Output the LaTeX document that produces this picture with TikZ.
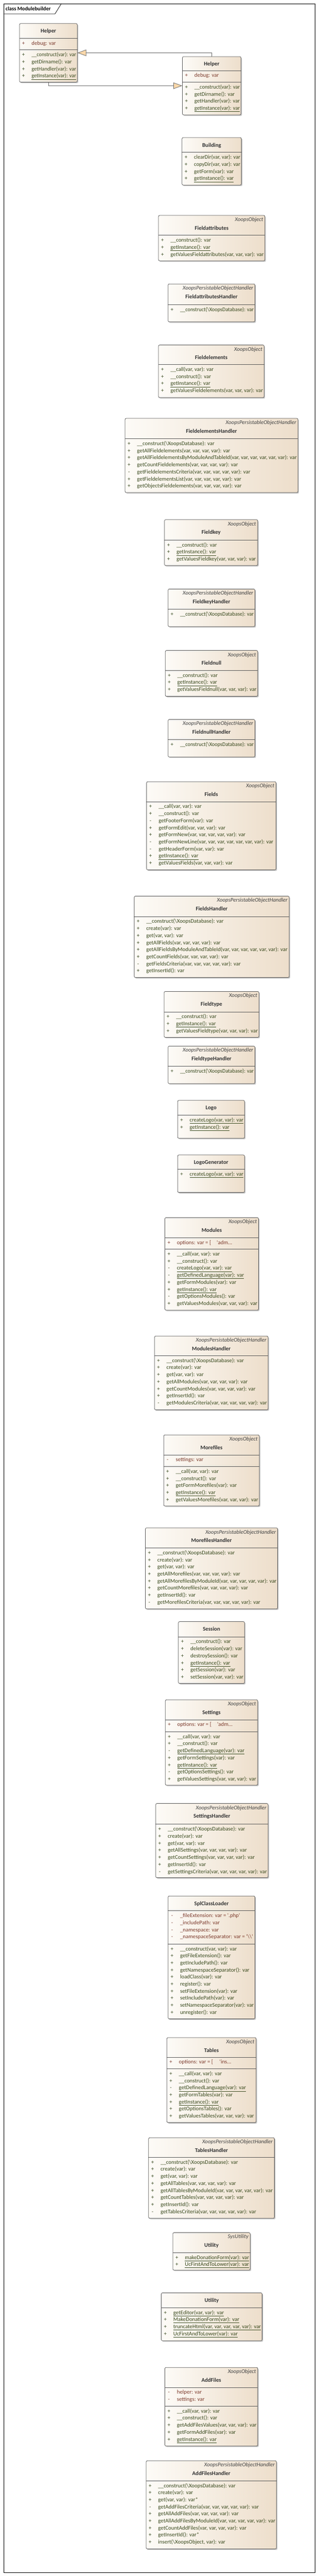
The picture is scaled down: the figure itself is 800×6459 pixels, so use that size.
\documentclass[tikz,border=0pt]{standalone}
\usepackage{fontspec}
\setmainfont{Carlito}
\usepackage{graphicx}
\usetikzlibrary{shadows,fit,arrows.meta}
\definecolor{boxline}{RGB}{85,85,85}
\definecolor{boxl}{RGB}{253,251,247}
\definecolor{boxr}{RGB}{237,222,203}
\definecolor{attrc}{RGB}{125,60,45}
\definecolor{opc}{RGB}{58,74,30}
\definecolor{namec}{RGB}{51,51,51}
\definecolor{stc}{RGB}{68,68,68}
\definecolor{genline}{RGB}{105,105,105}
\definecolor{trifill}{RGB}{250,216,170}
\newcommand{\memfont}{\fontsize{14}{16}\selectfont}
\newcommand{\bsl}{\textbackslash}
\newcommand{\qs}{\textquotesingle}
\newsavebox\umlbox
\newcount\umlidx
\tikzset{
  clsbox/.style={draw=boxline, line width=1pt, rounded corners=3pt, left color=boxl, right color=boxr, inner sep=0pt,
    drop shadow={shadow xshift=2.5pt, shadow yshift=-2.5pt, fill=black!45, opacity=0.5}},
  sepline/.style={draw=boxline, line width=1pt},
  cname/.style={font=\fontsize{14}{16}\selectfont\bfseries, text=namec, inner sep=0pt, text height=10pt, text depth=3.5pt},
  stereo/.style={font=\fontsize{14}{16}\selectfont\itshape, text=stc, inner sep=0pt, text height=10pt, text depth=3.5pt},
  sign/.style={anchor=center, inner sep=0pt, font=\memfont, text height=10pt, text depth=3.5pt},
  member/.style={anchor=west, inner sep=0pt, font=\memfont, text height=10pt, text depth=3.5pt},
  gen/.style={draw=genline, line width=1pt, -{Triangle[length=22pt, width=16pt, fill=trifill]}}
}
\newcommand{\umlfit}[1]{%
  \sbox\umlbox{#1}%
  \ifdim\wd\umlbox>\umlavail pt\relax
    \pgfmathsetmacro\umlratio{\umlavail/\the\wd\umlbox}%
    \scalebox{\umlratio}[1]{\usebox\umlbox}%
  \else
    \usebox\umlbox
  \fi}
\newcommand{\umlcls}[7]{%
  \node[clsbox, fit={(#2,#4) (#3,#5)}] (#1) {};
  \def\umlid{#1}\def\umlx{#2}%
  \pgfmathsetmacro\umlavail{#3-#2-33}%
  \ifx\relax#6\relax
    \node[cname] (#1-name) at ({(#2+#3)/2},{#4+20}) {#7};
  \else
    \node[stereo, anchor=east] (#1-stereo) at ({#3-4},{#4+11.5}) {#6};
    \node[cname] (#1-name) at ({(#2+#3)/2},{#4+33}) {#7};
  \fi}
\newcommand{\umlsep}[1]{%
  \draw[sepline] (\umlid.west |- 0,#1) -- (\umlid.east |- 0,#1);
  \def\umlsepy{#1}\global\umlidx=0\relax}
\newcommand{\umlm}[3]{%
  \global\advance\umlidx by 1\relax
  \pgfmathsetmacro\umly{\umlsepy+13.5+17.7*(\the\umlidx-1)}%
  \node[sign, text=#3] (\umlid-s\umlsepy-\the\umlidx) at ({\umlx+10},\umly) {#1};
  \node[member, text=#3] (\umlid-m\umlsepy-\the\umlidx) at ({\umlx+30},\umly) {\umlfit{#2}};
}
\begin{document}
\begin{tikzpicture}[x=1pt,y=-1pt]
\useasboundingbox (0,0) rectangle (800,6459);
\fill[white] (0,0) rectangle (800,6459);
% frame
\draw[black, line width=1pt] (9,9) rectangle (791,6450);
\draw[black, line width=1pt] (9,35) -- (138,35) -- (154,9);
\node[font=\fontsize{13.5}{16}\selectfont\bfseries, anchor=west, inner sep=0pt] (framelabel) at (14,21.5) {class Modulebuilder};

% Helper (left)
\umlcls{h1}{49}{194}{59}{206}{}{Helper}
\umlsep{96}
\umlm{+}{debug: var}{attrc}
\umlsep{125}
\umlm{+}{\_\_construct(var): var}{opc}
\umlm{+}{getDirname(): var}{opc}
\umlm{+}{getHandler(var): var}{opc}
\umlm{+}{\underline{getInstance(var): var}}{opc}

% Helper (right)
\umlcls{h2}{458}{605}{142}{288}{}{Helper}
\umlsep{177}
\umlm{+}{debug: var}{attrc}
\umlsep{206}
\umlm{+}{\_\_construct(var): var}{opc}
\umlm{+}{getDirname(): var}{opc}
\umlm{+}{getHandler(var): var}{opc}
\umlm{+}{\underline{getInstance(var): var}}{opc}

\draw[gen] (h2.north) |- (h1.east);
\draw[gen] (h1.south) |- (h2.west);

% Building
\umlcls{building}{457}{606}{345}{464}{}{Building}
\umlsep{382}
\umlm{+}{clearDir(var, var): var}{opc}
\umlm{+}{copyDir(var, var): var}{opc}
\umlm{+}{getForm(var): var}{opc}
\umlm{+}{\underline{getInstance(): var}}{opc}

% Fieldattributes
\umlcls{fattr}{398}{665}{540}{654}{XoopsObject}{Fieldattributes}
\umlsep{590}
\umlm{+}{\_\_construct(): var}{opc}
\umlm{+}{\underline{getInstance(): var}}{opc}
\umlm{+}{getValuesFieldattributes(var, var, var): var}{opc}

\umlcls{fattrH}{422}{640}{712}{807}{XoopsPersistableObjectHandler}{FieldattributesHandler}
\umlsep{764}
\umlm{+}{\_\_construct(\bsl XoopsDatabase): var}{opc}

% Fieldelements
\umlcls{felem}{398}{663}{865}{997}{XoopsObject}{Fieldelements}
\umlsep{914}
\umlm{+}{\_\_call(var, var): var}{opc}
\umlm{+}{\_\_construct(): var}{opc}
\umlm{+}{\underline{getInstance(): var}}{opc}
\umlm{+}{getValuesFieldelements(var, var, var): var}{opc}

\umlcls{felemH}{314}{748}{1049}{1235}{XoopsPersistableObjectHandler}{FieldelementsHandler}
\umlsep{1100}
\umlm{+}{\_\_construct(\bsl XoopsDatabase): var}{opc}
\umlm{+}{getAllFieldelements(var, var, var, var): var}{opc}
\umlm{+}{getAllFieldelementsByModuleAndTableId(var, var, var, var, var, var): var}{opc}
\umlm{+}{getCountFieldelements(var, var, var, var): var}{opc}
\umlm{-}{getFieldelementsCriteria(var, var, var, var, var): var}{opc}
\umlm{+}{getFieldelementsList(var, var, var, var, var): var}{opc}
\umlm{+}{getObjectsFieldelements(var, var, var, var): var}{opc}

% Fieldkey
\umlcls{fkey}{413}{647}{1303}{1418}{XoopsObject}{Fieldkey}
\umlsep{1354}
\umlm{+}{\_\_construct(): var}{opc}
\umlm{+}{\underline{getInstance(): var}}{opc}
\umlm{+}{getValuesFieldkey(var, var, var): var}{opc}

\umlcls{fkeyH}{422}{640}{1477}{1571}{XoopsPersistableObjectHandler}{FieldkeyHandler}
\umlsep{1527}
\umlm{+}{\_\_construct(\bsl XoopsDatabase): var}{opc}

% Fieldnull
\umlcls{fnull}{415}{647}{1631}{1746}{XoopsObject}{Fieldnull}
\umlsep{1681}
\umlm{+}{\_\_construct(): var}{opc}
\umlm{+}{\underline{getInstance(): var}}{opc}
\umlm{+}{getValuesFieldnull(var, var, var): var}{opc}

\umlcls{fnullH}{422}{640}{1804}{1898}{XoopsPersistableObjectHandler}{FieldnullHandler}
\umlsep{1854}
\umlm{+}{\_\_construct(\bsl XoopsDatabase): var}{opc}

% Fields
\umlcls{fields}{368}{693}{1960}{2181}{XoopsObject}{Fields}
\umlsep{2010}
\umlm{+}{\_\_call(var, var): var}{opc}
\umlm{+}{\_\_construct(): var}{opc}
\umlm{-}{getFooterForm(var): var}{opc}
\umlm{+}{getFormEdit(var, var, var): var}{opc}
\umlm{+}{getFormNew(var, var, var, var, var): var}{opc}
\umlm{-}{getFormNewLine(var, var, var, var, var, var, var): var}{opc}
\umlm{-}{getHeaderForm(var, var): var}{opc}
\umlm{+}{\underline{getInstance(): var}}{opc}
\umlm{+}{getValuesFields(var, var, var): var}{opc}

\umlcls{fieldsH}{337}{726}{2247}{2451}{XoopsPersistableObjectHandler}{FieldsHandler}
\umlsep{2298}
\umlm{+}{\_\_construct(\bsl XoopsDatabase): var}{opc}
\umlm{+}{create(var): var}{opc}
\umlm{+}{get(var, var): var}{opc}
\umlm{+}{getAllFields(var, var, var, var): var}{opc}
\umlm{+}{getAllFieldsByModuleAndTableId(var, var, var, var, var, var): var}{opc}
\umlm{+}{getCountFields(var, var, var, var): var}{opc}
\umlm{-}{getFieldsCriteria(var, var, var, var, var): var}{opc}
\umlm{+}{getInsertId(): var}{opc}

% Fieldtype
\umlcls{ftype}{412}{650}{2486}{2601}{XoopsObject}{Fieldtype}
\umlsep{2537}
\umlm{+}{\_\_construct(): var}{opc}
\umlm{+}{\underline{getInstance(): var}}{opc}
\umlm{+}{getValuesFieldtype(var, var, var): var}{opc}

\umlcls{ftypeH}{422}{640}{2623}{2717}{XoopsPersistableObjectHandler}{FieldtypeHandler}
\umlsep{2673}
\umlm{+}{\_\_construct(\bsl XoopsDatabase): var}{opc}

% Logo
\umlcls{logo}{446}{614}{2759}{2854}{}{Logo}
\umlsep{2796}
\umlm{+}{\underline{createLogo(var, var): var}}{opc}
\umlm{+}{\underline{getInstance(): var}}{opc}

\umlcls{logogen}{446}{614}{2896}{2990}{}{LogoGenerator}
\umlsep{2932}
\umlm{+}{\underline{createLogo(var, var): var}}{opc}

% Modules
\umlcls{modules}{414}{649}{3053}{3285}{XoopsObject}{Modules}
\umlsep{3103}
\umlm{+}{options: var = [\hspace{14pt}\qs adm...}{attrc}
\umlsep{3132}
\umlm{+}{\_\_call(var, var): var}{opc}
\umlm{+}{\_\_construct(): var}{opc}
\umlm{-}{\underline{createLogo(var, var): var}}{opc}
\umlm{-}{\underline{getDefinedLanguage(var): var}}{opc}
\umlm{+}{getFormModules(var): var}{opc}
\umlm{+}{\underline{getInstance(): var}}{opc}
\umlm{-}{getOptionsModules(): var}{opc}
\umlm{+}{getValuesModules(var, var, var): var}{opc}

\umlcls{modulesH}{388}{673}{3350}{3535}{XoopsPersistableObjectHandler}{ModulesHandler}
\umlsep{3399}
\umlm{+}{\_\_construct(\bsl XoopsDatabase): var}{opc}
\umlm{+}{create(var): var}{opc}
\umlm{+}{get(var, var): var}{opc}
\umlm{+}{getAllModules(var, var, var, var): var}{opc}
\umlm{+}{getCountModules(var, var, var, var): var}{opc}
\umlm{+}{getInsertId(): var}{opc}
\umlm{-}{getModulesCriteria(var, var, var, var, var): var}{opc}

% Morefiles
\umlcls{morefiles}{411}{651}{3598}{3776}{XoopsObject}{Morefiles}
\umlsep{3648}
\umlm{-}{settings: var}{attrc}
\umlsep{3677}
\umlm{+}{\_\_call(var, var): var}{opc}
\umlm{+}{\_\_construct(): var}{opc}
\umlm{+}{getFormMorefiles(var): var}{opc}
\umlm{+}{\underline{getInstance(): var}}{opc}
\umlm{+}{getValuesMorefiles(var, var, var): var}{opc}

\umlcls{morefilesH}{365}{697}{3831}{4034}{XoopsPersistableObjectHandler}{MorefilesHandler}
\umlsep{3881}
\umlm{+}{\_\_construct(\bsl XoopsDatabase): var}{opc}
\umlm{+}{create(var): var}{opc}
\umlm{+}{get(var, var): var}{opc}
\umlm{+}{getAllMorefiles(var, var, var, var): var}{opc}
\umlm{+}{getAllMorefilesByModuleId(var, var, var, var, var): var}{opc}
\umlm{+}{getCountMorefiles(var, var, var, var): var}{opc}
\umlm{+}{getInsertId(): var}{opc}
\umlm{-}{getMorefilesCriteria(var, var, var, var, var): var}{opc}

% Session
\umlcls{session}{448}{614}{4066}{4221}{}{Session}
\umlsep{4104}
\umlm{+}{\_\_construct(): var}{opc}
\umlm{+}{deleteSession(var): var}{opc}
\umlm{+}{destroySession(): var}{opc}
\umlm{+}{\underline{getInstance(): var}}{opc}
\umlm{+}{getSession(var): var}{opc}
\umlm{+}{setSession(var, var): var}{opc}

% Settings
\umlcls{settings}{415}{647}{4262}{4476}{XoopsObject}{Settings}
\umlsep{4312}
\umlm{+}{options: var = [\hspace{14pt}\qs adm...}{attrc}
\umlsep{4342}
\umlm{+}{\_\_call(var, var): var}{opc}
\umlm{+}{\_\_construct(): var}{opc}
\umlm{-}{\underline{getDefinedLanguage(var): var}}{opc}
\umlm{+}{getFormSettings(var): var}{opc}
\umlm{+}{\underline{getInstance(): var}}{opc}
\umlm{-}{getOptionsSettings(): var}{opc}
\umlm{+}{getValuesSettings(var, var, var): var}{opc}

\umlcls{settingsH}{391}{673}{4522}{4708}{XoopsPersistableObjectHandler}{SettingsHandler}
\umlsep{4574}
\umlm{+}{\_\_construct(\bsl XoopsDatabase): var}{opc}
\umlm{+}{create(var): var}{opc}
\umlm{+}{get(var, var): var}{opc}
\umlm{+}{getAllSettings(var, var, var, var): var}{opc}
\umlm{+}{getCountSettings(var, var, var, var): var}{opc}
\umlm{+}{getInsertId(): var}{opc}
\umlm{-}{getSettingsCriteria(var, var, var, var, var): var}{opc}

% SplClassLoader
\umlcls{spl}{422}{640}{4754}{5062}{}{SplClassLoader}
\umlsep{4791}
\umlm{-}{\_fileExtension: var = \qs.php\qs}{attrc}
\umlm{-}{\_includePath: var}{attrc}
\umlm{-}{\_namespace: var}{attrc}
\umlm{-}{\_namespaceSeparator: var = \qs\bsl\bsl\qs}{attrc}
\umlsep{4874}
\umlm{+}{\_\_construct(var, var): var}{opc}
\umlm{+}{getFileExtension(): var}{opc}
\umlm{+}{getIncludePath(): var}{opc}
\umlm{+}{getNamespaceSeparator(): var}{opc}
\umlm{+}{loadClass(var): var}{opc}
\umlm{+}{register(): var}{opc}
\umlm{+}{setFileExtension(var): var}{opc}
\umlm{+}{setIncludePath(var): var}{opc}
\umlm{+}{setNamespaceSeparator(var): var}{opc}
\umlm{+}{unregister(): var}{opc}

% Tables
\umlcls{tables}{419}{643}{5109}{5322}{XoopsObject}{Tables}
\umlsep{5158}
\umlm{+}{options: var = [\hspace{16pt}\qs ins...}{attrc}
\umlsep{5187}
\umlm{+}{\_\_call(var, var): var}{opc}
\umlm{+}{\_\_construct(): var}{opc}
\umlm{-}{\underline{getDefinedLanguage(var): var}}{opc}
\umlm{+}{getFormTables(var): var}{opc}
\umlm{+}{\underline{getInstance(): var}}{opc}
\umlm{+}{getOptionsTables(): var}{opc}
\umlm{+}{getValuesTables(var, var, var): var}{opc}

\umlcls{tablesH}{373}{689}{5360}{5562}{XoopsPersistableObjectHandler}{TablesHandler}
\umlsep{5409}
\umlm{+}{\_\_construct(\bsl XoopsDatabase): var}{opc}
\umlm{+}{create(var): var}{opc}
\umlm{+}{get(var, var): var}{opc}
\umlm{+}{getAllTables(var, var, var, var): var}{opc}
\umlm{+}{getAllTablesByModuleId(var, var, var, var, var): var}{opc}
\umlm{+}{getCountTables(var, var, var, var): var}{opc}
\umlm{+}{getInsertId(): var}{opc}
\umlm{-}{getTablesCriteria(var, var, var, var, var): var}{opc}

% Utility (SysUtility)
\umlcls{util1}{434}{628}{5598}{5692}{SysUtility}{Utility}
\umlsep{5648}
\umlm{+}{\underline{makeDonationForm(var): var}}{opc}
\umlm{+}{\underline{UcFirstAndToLower(var): var}}{opc}

% Utility
\umlcls{util2}{405}{658}{5749}{5869}{}{Utility}
\umlsep{5786}
\umlm{+}{\underline{getEditor(var, var): var}}{opc}
\umlm{+}{\underline{MakeDonationForm(var): var}}{opc}
\umlm{+}{\underline{truncateHtml(var, var, var, var, var): var}}{opc}
\umlm{+}{\underline{UcFirstAndToLower(var): var}}{opc}

% AddFiles
\umlcls{addfiles}{414}{647}{5936}{6133}{XoopsObject}{AddFiles}
\umlsep{5986}
\umlm{-}{helper: var}{attrc}
\umlm{-}{settings: var}{attrc}
\umlsep{6033}
\umlm{+}{\_\_call(var, var): var}{opc}
\umlm{+}{\_\_construct(): var}{opc}
\umlm{+}{getAddFilesValues(var, var, var): var}{opc}
\umlm{+}{getFormAddFiles(var): var}{opc}
\umlm{+}{\underline{getInstance(): var}}{opc}

\umlcls{addfilesH}{367}{694}{6170}{6391}{XoopsPersistableObjectHandler}{AddFilesHandler}
\umlsep{6220}
\umlm{+}{\_\_construct(\bsl XoopsDatabase): var}{opc}
\umlm{+}{create(var): var}{opc}
\umlm{+}{get(var, var): var*}{opc}
\umlm{-}{getAddFilesCriteria(var, var, var, var, var): var}{opc}
\umlm{+}{getAllAddFiles(var, var, var, var): var}{opc}
\umlm{+}{getAllAddFilesByModuleId(var, var, var, var, var): var}{opc}
\umlm{+}{getCountAddFiles(var, var, var, var): var}{opc}
\umlm{+}{getInsertId(): var*}{opc}
\umlm{+}{insert(\bsl XoopsObject, var): var}{opc}
\end{tikzpicture}
\end{document}
